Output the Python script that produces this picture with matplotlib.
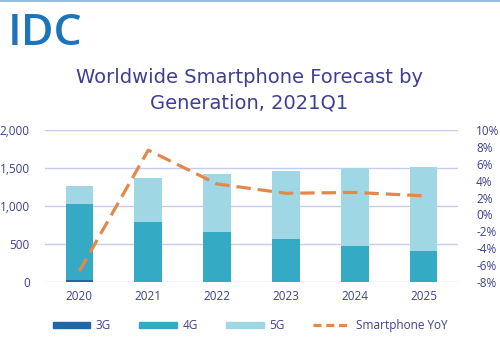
import numpy as np
import matplotlib.pyplot as plt
from matplotlib.lines import Line2D
from matplotlib.patches import Patch

years = ['2020', '2021', '2022', '2023', '2024', '2025']
g3 = [30, 5, 3, 2, 1, 1]
g4 = [995, 780, 652, 560, 477, 411]
g5 = [238, 580, 767, 898, 1018, 1105]
yoy = [-6.7, 7.6, 3.6, 2.5, 2.6, 2.2]

c3 = '#2366a8'
c4 = '#35aac5'
c5 = '#a0d7e4'
corange = '#e3884a'
ctext = '#3d3f94'
cgrid = '#c8caee'

plt.rcParams['font.family'] = ['Open Sans', 'DejaVu Sans']

fig = plt.figure(figsize=(5, 3.5), dpi=100)
ax = fig.add_axes([0.09, 0.194, 0.826, 0.435])

x = np.arange(len(years))
w = 0.4
b4 = np.array(g3)
b5 = b4 + np.array(g4)
ax.bar(x, g3, w, color=c3, zorder=3)
ax.bar(x, g4, w, bottom=b4, color=c4, zorder=3)
ax.bar(x, g5, w, bottom=b5, color=c5, zorder=3)

ax.set_xlim(-0.5, 5.5)
ax.set_ylim(0, 2000)
ax.set_yticks([0, 500, 1000, 1500, 2000])
ax.set_yticklabels(['0', '500', '1,000', '1,500', '2,000'])
ax.set_xticks(x)
ax.set_xticklabels(years)
ax.yaxis.grid(True, color=cgrid, linewidth=1, zorder=0)
for s in ax.spines.values():
    s.set_visible(False)
ax.tick_params(length=0, labelsize=8.5, labelcolor=ctext)
ax.tick_params(axis='y', pad=11)
ax.tick_params(axis='x', pad=6)

ax2 = ax.twinx()
ax2.plot(x, yoy, color=corange, linewidth=2.3, dashes=(4.5, 2.2), zorder=4)
ax2.set_ylim(-8, 10)
ax2.set_yticks(np.arange(-8, 11, 2))
ax2.set_yticklabels(['%d%%' % v for v in range(-8, 11, 2)])
for s in ax2.spines.values():
    s.set_visible(False)
ax2.tick_params(length=0, labelsize=8.5, labelcolor=ctext, pad=13)

fig.text(0.498, 0.742, 'Worldwide Smartphone Forecast by\nGeneration, 2021Q1',
         ha='center', va='center', fontsize=14, color=ctext, linespacing=1.4,
         family='DejaVu Sans')
fig.text(0.166, 0.905, 'IDC', ha='right', va='center', fontsize=32,
         color='#1e74bb', fontweight='semibold', family='Open Sans')
fig.add_artist(Line2D([0, 1], [0.997, 0.997], color='#7fb4e0', linewidth=1.2))

handles = [Patch(color=c3), Patch(color=c4), Patch(color=c5),
           Line2D([0], [0], color=corange, linewidth=2.3, dashes=(2.5, 1.5))]
fig.legend(handles, ['3G', '4G', '5G', 'Smartphone YoY'], loc='center',
           bbox_to_anchor=(0.5, 0.07), ncol=4, frameon=False, fontsize=8.5,
           labelcolor=ctext, handlelength=3.2, handleheight=0.45,
           columnspacing=2.4, handletextpad=0.45)

fig.savefig('out.png', dpi=100)
